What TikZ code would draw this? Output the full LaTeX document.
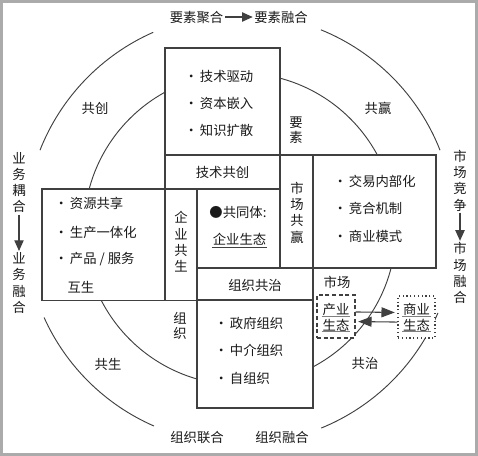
\documentclass[tikz,border=0pt]{standalone}
\usepackage{fontspec}
\setmainfont{Noto Sans CJK SC}
\usetikzlibrary{arrows.meta,fit}
\definecolor{ln}{HTML}{404040}
\definecolor{tx}{HTML}{1A1A1A}
\definecolor{framec}{HTML}{ABABAB}
\newcommand{\bul}{·\kern1.5pt}
\begin{document}
\begin{tikzpicture}[x=0.75pt,y=-0.75pt,
  box/.style={draw=ln, line width=0.85pt, fill=white, inner sep=0pt},
  lbl/.style={text=tx, font=\fontsize{10}{12}\selectfont, inner sep=1pt},
  item/.style={lbl, anchor=west},
  vlbl/.style={lbl, align=center, font=\fontsize{10}{12.2}\selectfont},
  vlbls/.style={lbl, align=center, font=\fontsize{10}{11.3}\selectfont},
  ring/.style={draw=ln, line width=0.7pt},
  arr/.style={draw=ln, line width=0.8pt, -{Triangle[length=8pt,width=7pt]}},
  arrb/.style={draw=ln, line width=0.8pt, -{Triangle[length=10pt,width=7.5pt]}},
  uline/.style={draw=gray, line width=0.8pt}]

\useasboundingbox (0,0) rectangle (478,456);
\fill[white] (0,0) rectangle (478,456);
\draw[framec, line width=2.2pt] (1.5,1.5) rectangle (476.5,454.5);

% rings
\draw[ring] (240,229) circle[radius=156];
\draw[ring] (240,229) ++(-113.8:215) arc[start angle=-113.8, end angle=-158.5, radius=215];
\draw[ring] (240,229) ++(-67.9:215) arc[start angle=-67.9, end angle=-21.5, radius=215];
\draw[ring] (240,229) ++(113.6:215) arc[start angle=113.6, end angle=155.7, radius=215];
\draw[ring] (240,229) ++(23:215) arc[start angle=23, end angle=67.8, radius=215];

% boxes
\node[box, fit={(165,48)(280,155)}] (bt) {};
\node[box, fit={(165,155)(280,189)}] (bjs) {};
\node[box, fit={(280,155)(313,268)}] (bsc) {};
\node[box, fit={(313,155)(436,268)}] (br) {};
\node[box, fit={(42,189)(165,300.5)}] (bl) {};
\node[box, fit={(165,189)(197,300.5)}] (bqy) {};
\node[box, fit={(197,268)(313,300)}] (bzz) {};
\node[box, fit={(197,300)(313,408)}] (bb) {};
\node[box, dash pattern=on 3pt off 2pt, line width=0.8pt, fit={(317,295)(355,338)}] (bind) {};
\node[box, dotted, line width=0.8pt, fit={(398,296)(435,338)}] (bbiz) {};

% box texts
\node[item] (t1) at (183,76) {\bul 技术驱动};
\node[item] (t2) at (183,103) {\bul 资本嵌入};
\node[item] (t3) at (183,130) {\bul 知识扩散};

\node[item] (l1) at (53,203) {\bul 资源共享};
\node[item] (l2) at (53,232) {\bul 生产一体化};
\node[item] (l3) at (53,259) {\bul 产品 / 服务};
\node[item] (l4) at (66,287) {互生};

\node[item] (r1) at (332,181) {\bul 交易内部化};
\node[item] (r2) at (332,208) {\bul 竞合机制};
\node[item] (r3) at (332,236) {\bul 商业模式};

\node[item] (b1) at (213,323) {\bul 政府组织};
\node[item] (b2) at (213,350) {\bul 中介组织};
\node[item] (b3) at (213,378) {\bul 自组织};

\node[lbl] (tjs) at (bjs.center) {技术共创};
\node[vlbl] (tsc) at (297,212.5) {市\\场\\共\\赢};
\node[vlbl] (tqy) at (181,242) {企\\业\\共\\生};
\node[lbl] (tzz) at (255,285) {组织共治};
\node[vlbls] (tys) at (296,130) {要\\素};
\node[vlbls] (tzo) at (180,325.5) {组\\织};
\node[lbl] (tsch) at (337,282) {市场};

\node[lbl] (tgt) at (238,212) {●共同体:};
\node[lbl, inner sep=0.5pt] (teco) at (239.5,239) {企业生态};
\draw[ln, line width=0.7pt] ([yshift=-1pt]teco.south west) -- ([yshift=-1pt]teco.south east);

% ecology boxes
\node[lbl, inner sep=0.5pt] (ind1) at (336,309) {产业};
\node[lbl, inner sep=0.5pt] (ind2) at (336,325) {生态};
\node[lbl, inner sep=0.5pt] (biz1) at (416.5,309) {商业};
\node[lbl, inner sep=0.5pt] (biz2) at (416.5,325) {生态};
\draw[uline] (ind1.south west) -- (ind1.south east);
\draw[uline] (ind2.south west) -- (ind2.south east);
\draw[uline] (biz1.south west) -- (biz1.south east);
\draw[uline] (biz2.south west) -- (biz2.south east);
\draw[arrb] ([yshift=3.4pt]bind.east) -- ([yshift=3.4pt,xshift=-2pt]bbiz.west);
\draw[arrb] ([yshift=-3.8pt]bbiz.west) -- ([yshift=-3.8pt,xshift=2pt]bind.east);

% ring labels
\node[lbl] (gc) at (95,108) {共创};
\node[lbl] (gy) at (378,108) {共赢};
\node[lbl] (gs) at (108,364) {共生};
\node[lbl] (gz) at (365,363) {共治};

% outer texts
\node[lbl] (ys1) at (196.5,17) {要素聚合};
\node[lbl] (ys2) at (281,17) {要素融合};
\draw[arr] (ys1.east) -- (ys2.west);

\node[lbl] (zz1) at (197,437) {组织联合};
\node[lbl] (zz2) at (282,437) {组织融合};

\node[vlbl] (yw1) at (19,182.5) {业\\务\\耦\\合};
\node[vlbl] (yw2) at (19,283) {业\\务\\融\\合};
\draw[arr] (yw1.south) -- (yw2.north);

\node[vlbl] (sc1) at (460,180.5) {市\\场\\竞\\争};
\node[vlbl] (sc2) at (460,273) {市\\场\\融\\合};
\draw[arr] (sc1.south) -- (sc2.north);
\end{tikzpicture}
\end{document}
